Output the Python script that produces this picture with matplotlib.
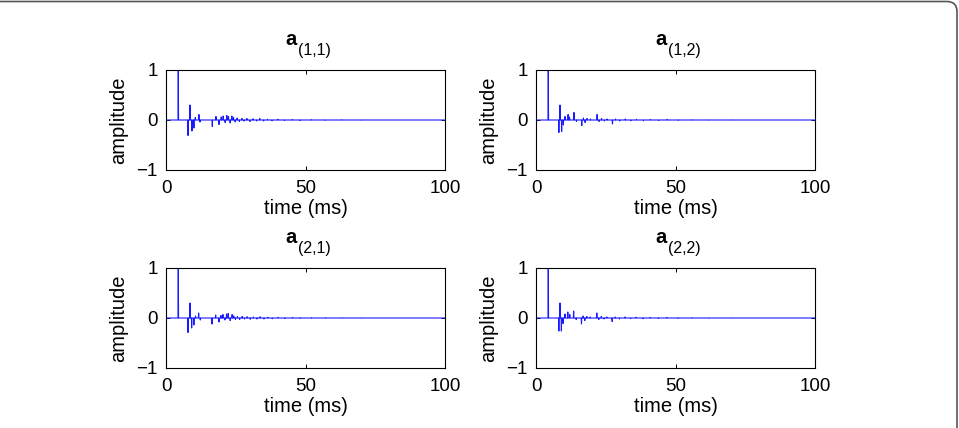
import numpy as np
import matplotlib
matplotlib.use("Agg")
import matplotlib.pyplot as plt
from matplotlib.patches import FancyBboxPatch

plt.rcParams['font.family'] = ['Liberation Sans', 'DejaVu Sans']

# ---------------- data ----------------
titles = ["(1,1)", "(1,2)", "(2,1)", "(2,2)"]
x_ticks = [0, 50, 100]
y_ticks = [-1, 0, 1]
sample_step_ms = 0.1
duration_ms = 100

# reflection times (ms) and amplitudes for each channel
times_11 = [4.4, 7.9, 8.6, 9.3, 10.0, 10.5, 11.8, 12.2, 16.6, 17.9, 19.0, 19.8,
            20.5, 21.2, 21.8, 22.4, 23.0, 23.6, 24.2, 24.8, 25.5, 26.3, 27.2, 28.0,
            29.0, 30.1, 31.2, 32.5, 33.6, 35.0, 36.4, 38.0, 40.1, 42.5, 45.3, 48.0,
            52.0, 57.0, 63.0, 70.0]
amps_11 = [1.0, -0.31, 0.30, -0.22, -0.16, 0.05, 0.11, -0.04, -0.13, 0.07, -0.09, 0.06,
           0.08, -0.05, 0.09, 0.07, -0.06, 0.08, 0.05, -0.04, 0.04, -0.03, 0.03, -0.02,
           0.03, -0.03, 0.025, -0.02, 0.03, -0.02, 0.015, -0.015, 0.015, -0.01, 0.01, -0.01,
           0.008, -0.008, 0.006, -0.005]

times_12 = [4.4, 8.2, 8.6, 9.2, 9.8, 10.4, 11.5, 12.0, 13.6, 14.5, 16.4, 17.0,
            17.6, 18.3, 19.5, 21.9, 22.6, 23.5, 24.5, 25.5, 27.4, 28.5, 30.0, 32.0,
            34.0, 36.0, 38.5, 41.0, 44.0, 47.0, 51.0, 56.0, 62.0, 70.0]
amps_12 = [0.98, -0.25, 0.30, -0.23, -0.10, 0.07, 0.11, 0.06, 0.15, -0.03, -0.11, 0.04,
           -0.05, 0.03, 0.02, 0.11, -0.03, 0.03, -0.02, 0.02, -0.08, 0.02, -0.02, 0.02,
           -0.015, 0.015, -0.015, 0.01, -0.01, 0.01, -0.008, 0.006, -0.005, 0.004]

times_21 = [4.4, 7.9, 8.6, 9.2, 10.0, 10.6, 11.7, 12.3, 16.5, 17.8, 19.0, 19.7,
            20.4, 21.1, 21.7, 22.3, 23.0, 23.7, 24.3, 24.9, 25.6, 26.4, 27.3, 28.1,
            29.1, 30.2, 31.3, 32.6, 33.7, 35.1, 36.5, 38.1, 40.2, 42.6, 45.4, 48.1,
            52.1, 57.1, 63.1, 70.1]
amps_21 = [1.0, -0.29, 0.30, -0.20, -0.14, 0.04, 0.10, -0.04, -0.12, 0.06, -0.08, 0.05,
           0.07, -0.04, 0.08, 0.09, -0.05, 0.07, 0.04, -0.03, 0.03, -0.03, 0.03, -0.02,
           0.025, -0.025, 0.02, -0.02, 0.025, -0.02, 0.015, -0.015, 0.012, -0.01, 0.01, -0.008,
           0.007, -0.007, 0.005, -0.004]

times_22 = [4.4, 8.2, 8.6, 9.1, 9.7, 10.4, 11.4, 12.1, 13.5, 14.4, 16.3, 16.9,
            17.5, 18.2, 19.4, 21.8, 22.5, 23.4, 24.4, 25.4, 27.3, 28.4, 29.9, 31.9,
            33.9, 35.9, 38.4, 40.9, 43.9, 46.9, 50.9, 55.9, 61.9, 69.9]
amps_22 = [1.0, -0.26, 0.30, -0.26, -0.11, 0.08, 0.12, 0.07, 0.14, -0.03, -0.12, 0.04,
           -0.05, 0.03, 0.02, 0.10, -0.03, 0.03, -0.02, 0.02, -0.07, 0.02, -0.02, 0.02,
           -0.015, 0.015, -0.015, 0.01, -0.01, 0.01, -0.008, 0.006, -0.005, 0.004]

channels = [(times_11, amps_11), (times_12, amps_12), (times_21, amps_21), (times_22, amps_22)]

# ---------------- figure ----------------
W, H = 959, 428
fig = plt.figure(figsize=(W / 100, H / 100), dpi=100)

# rounded outer frame (only top and right edges visible)
frame = FancyBboxPatch((-0.35, -0.3), 9.59 - 0.02 + 0.35, 4.28 - 0.015 + 0.3,
                       boxstyle="round,pad=0,rounding_size=0.1",
                       transform=fig.dpi_scale_trans, fill=False,
                       edgecolor="#555555", linewidth=1.2)
fig.patches.append(frame)

lefts = [166, 536]
tops = [70, 268]
aw, ah = 279, 100
positions = []
for tp in tops:
    for lf in lefts:
        positions.append([lf / W, (H - tp - ah) / H, aw / W, ah / H])

n_samples = int(round(duration_ms / sample_step_ms)) + 1
t_grid = np.linspace(0, duration_ms, n_samples)
px = 0.72  # points per pixel at 100 dpi

for pos, title, (tms, amps) in zip(positions, titles, channels):
    ax = fig.add_axes(pos)
    sig = np.zeros(n_samples)
    idx = np.round(np.array(tms) / sample_step_ms).astype(int)
    sig[idx] = amps
    ax.plot(t_grid, sig, color=(0.1, 0.1, 1.0), lw=0.8)
    ax.set_xlim(0, 100)
    ax.set_ylim(-1, 1)
    ax.set_xticks(x_ticks)
    ax.set_yticks(y_ticks)
    ax.set_yticklabels(["\u22121", "0", "1"])
    ax.tick_params(direction="in", length=3, width=0.7, top=True, right=True,
                   labelsize=13.5)
    ax.tick_params(axis="x", pad=7)
    ax.tick_params(axis="y", pad=6)
    for s in ax.spines.values():
        s.set_linewidth(0.8)
    ax.set_xlabel("time (ms)", fontsize=14.5, labelpad=2)
    ax.set_ylabel("amplitude", fontsize=14.5, labelpad=6)
    # title: bold "a" with subscript
    ax.annotate("a", xy=(0.5, 1), xycoords="axes fraction",
                xytext=(-8.5 * px, 25 * px), textcoords="offset points",
                ha="right", va="baseline", fontsize=14.5, fontweight="bold")
    ax.annotate(title, xy=(0.5, 1), xycoords="axes fraction",
                xytext=(-7.5 * px, 15 * px), textcoords="offset points",
                ha="left", va="baseline", fontsize=11.5)

fig.savefig("out.png", dpi=100)
